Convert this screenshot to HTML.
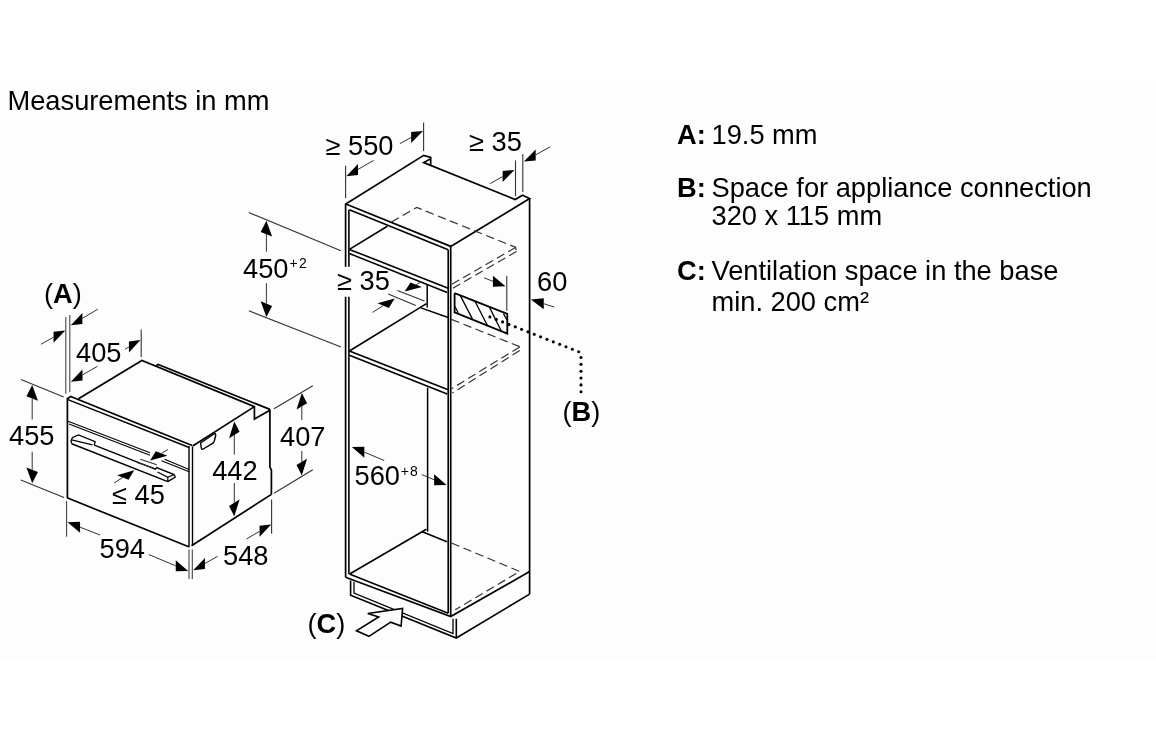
<!DOCTYPE html>
<html><head><meta charset="utf-8"><style>
html,body{margin:0;padding:0;background:#fff;width:1156px;height:742px;overflow:hidden}
svg{display:block;will-change:transform}
text{font-family:"Liberation Sans",sans-serif}
</style></head><body>
<svg width="1156" height="742" viewBox="0 0 1156 742"><rect x="0" y="0" width="1156" height="742" fill="#ffffff"/>
<rect x="0" y="82" width="1156" height="578" fill="#fdfdfd"/>
<path d="M67.30,399.00 L70.60,396.40 L192.20,445.50" fill="none" stroke="#000" stroke-width="1.6" stroke-linecap="butt" stroke-linejoin="miter"/>
<path d="M67.30,399.30 L189.20,447.50" fill="none" stroke="#000" stroke-width="1.4" stroke-linecap="butt" stroke-linejoin="miter"/>
<path d="M67.40,397.80 L67.40,498.00" fill="none" stroke="#000" stroke-width="1.7" stroke-linecap="butt" stroke-linejoin="miter"/>
<path d="M189.00,446.00 L189.00,547.00" fill="none" stroke="#000" stroke-width="1.4" stroke-linecap="butt" stroke-linejoin="miter"/>
<path d="M192.50,446.50 L192.50,545.50" fill="none" stroke="#000" stroke-width="1.4" stroke-linecap="butt" stroke-linejoin="miter"/>
<path d="M67.00,497.80 L189.30,547.00" fill="none" stroke="#000" stroke-width="1.7" stroke-linecap="butt" stroke-linejoin="miter"/>
<path d="M67.40,421.00 L150.00,452.80" fill="none" stroke="#000" stroke-width="1.1" stroke-linecap="butt" stroke-linejoin="miter"/>
<path d="M69.00,423.90 L150.00,455.30" fill="none" stroke="#000" stroke-width="1.1" stroke-linecap="butt" stroke-linejoin="miter"/>
<path d="M164.50,459.30 L189.20,469.60" fill="none" stroke="#000" stroke-width="1.1" stroke-linecap="butt" stroke-linejoin="miter"/>
<path d="M161.50,460.80 L189.20,471.80" fill="none" stroke="#000" stroke-width="1.1" stroke-linecap="butt" stroke-linejoin="miter"/>
<path d="M78.50,398.80 L141.90,360.40 L254.40,406.60 L254.40,419.10 L269.90,410.20" fill="none" stroke="#000" stroke-width="1.7" stroke-linecap="butt" stroke-linejoin="miter"/>
<path d="M155.60,366.20 L158.10,364.40 L269.90,409.40" fill="none" stroke="#000" stroke-width="1.7" stroke-linecap="butt" stroke-linejoin="miter"/>
<path d="M192.70,446.00 L254.40,406.60" fill="none" stroke="#000" stroke-width="1.7" stroke-linecap="butt" stroke-linejoin="miter"/>
<path d="M269.90,409.20 L269.90,467.00 L271.40,470.20 L271.40,494.60" fill="none" stroke="#000" stroke-width="1.7" stroke-linecap="butt" stroke-linejoin="miter"/>
<path d="M191.50,545.80 L271.40,494.40" fill="none" stroke="#000" stroke-width="1.7" stroke-linecap="butt" stroke-linejoin="miter"/>
<path d="M71.70,443.70 L71.00,440.50 L72.50,437.50 L78.50,434.90 L95.10,441.60 L94.30,445.20" fill="none" stroke="#000" stroke-width="1.3" stroke-linecap="butt" stroke-linejoin="miter"/>
<path d="M71.60,439.80 L92.50,444.90" fill="none" stroke="#000" stroke-width="1.2" stroke-linecap="butt" stroke-linejoin="miter"/>
<path d="M71.70,443.70 L167.80,481.60" fill="none" stroke="#000" stroke-width="1.5" stroke-linecap="butt" stroke-linejoin="miter"/>
<path d="M94.30,445.20 L155.30,469.10 L156.60,467.60 L174.00,474.50 L175.20,477.00 L167.80,481.60" fill="none" stroke="#000" stroke-width="1.4" stroke-linecap="butt" stroke-linejoin="miter"/>
<path d="M157.50,472.00 L167.80,477.40 L174.00,474.50" fill="none" stroke="#000" stroke-width="1.2" stroke-linecap="butt" stroke-linejoin="miter"/>
<path d="M167.80,477.40 L167.80,481.60" fill="none" stroke="#000" stroke-width="1.2" stroke-linecap="butt" stroke-linejoin="miter"/>
<path d="M200.6,443 L214.6,433.5 Q215.9,433.7 215.7,435.5 L214.2,441.2 Q213.7,442.8 212.2,443.7 L203.2,449 Q201.6,449.8 201.3,448 Z" fill="none" stroke="#000" stroke-width="1.4"/>
<path d="M65.80,317.00 L65.80,393.50" fill="none" stroke="#444" stroke-width="1.1" stroke-linecap="butt" stroke-linejoin="miter"/>
<path d="M69.80,315.00 L69.80,392.00" fill="none" stroke="#444" stroke-width="1.1" stroke-linecap="butt" stroke-linejoin="miter"/>
<path d="M141.20,329.50 L141.20,357.00" fill="none" stroke="#333" stroke-width="1.1" stroke-linecap="butt" stroke-linejoin="miter"/>
<path d="M21.00,379.60 L63.70,397.10" fill="none" stroke="#333" stroke-width="1.1" stroke-linecap="butt" stroke-linejoin="miter"/>
<path d="M20.80,479.90 L64.00,497.60" fill="none" stroke="#333" stroke-width="1.1" stroke-linecap="butt" stroke-linejoin="miter"/>
<path d="M66.60,501.00 L66.60,536.70" fill="none" stroke="#333" stroke-width="1.0" stroke-linecap="butt" stroke-linejoin="miter"/>
<path d="M189.00,549.60 L189.00,579.00" fill="none" stroke="#444" stroke-width="1.1" stroke-linecap="butt" stroke-linejoin="miter"/>
<path d="M192.30,549.60 L192.30,579.00" fill="none" stroke="#444" stroke-width="1.1" stroke-linecap="butt" stroke-linejoin="miter"/>
<path d="M271.60,499.50 L271.60,533.80" fill="none" stroke="#333" stroke-width="1.1" stroke-linecap="butt" stroke-linejoin="miter"/>
<path d="M274.00,408.80 L312.80,385.70" fill="none" stroke="#333" stroke-width="1.1" stroke-linecap="butt" stroke-linejoin="miter"/>
<path d="M274.00,493.20 L312.80,469.70" fill="none" stroke="#333" stroke-width="1.1" stroke-linecap="butt" stroke-linejoin="miter"/>
<path d="M140.30,459.30 L156.80,464.80" fill="none" stroke="#333" stroke-width="1.1" stroke-linecap="butt" stroke-linejoin="miter"/>
<path d="M137.00,462.50 L153.50,468.00" fill="none" stroke="#333" stroke-width="1.1" stroke-linecap="butt" stroke-linejoin="miter"/>
<path d="M65.30,330.50 L53.56,342.67 L53.56,331.67 Z" fill="#000"/>
<path d="M53.56,337.17 L41.00,344.30" fill="none" stroke="#333" stroke-width="1.0" stroke-linecap="butt" stroke-linejoin="miter"/>
<path d="M70.80,325.30 L82.40,323.89 L82.40,312.89 Z" fill="#000"/>
<path d="M82.40,318.39 L97.80,309.20" fill="none" stroke="#333" stroke-width="1.0" stroke-linecap="butt" stroke-linejoin="miter"/>
<path d="M70.80,381.70 L82.48,380.44 L82.48,369.44 Z" fill="#000"/>
<path d="M82.48,374.94 L97.40,366.30" fill="none" stroke="#333" stroke-width="1.0" stroke-linecap="butt" stroke-linejoin="miter"/>
<path d="M140.50,340.00 L128.91,352.42 L128.91,341.42 Z" fill="#000"/>
<path d="M128.91,346.92 L125.10,349.20" fill="none" stroke="#333" stroke-width="1.0" stroke-linecap="butt" stroke-linejoin="miter"/>
<path d="M32.20,385.00 L37.94,400.73 L26.46,396.27 Z" fill="#000"/>
<path d="M32.20,398.50 L32.20,419.50" fill="none" stroke="#333" stroke-width="1.0" stroke-linecap="butt" stroke-linejoin="miter"/>
<path d="M32.20,483.20 L37.94,471.93 L26.46,467.47 Z" fill="#000"/>
<path d="M32.20,469.70 L32.20,451.80" fill="none" stroke="#333" stroke-width="1.0" stroke-linecap="butt" stroke-linejoin="miter"/>
<path d="M67.50,522.30 L80.08,532.70 L80.08,521.70 Z" fill="#000"/>
<path d="M80.08,527.20 L100.10,535.00" fill="none" stroke="#333" stroke-width="1.0" stroke-linecap="butt" stroke-linejoin="miter"/>
<path d="M188.20,571.00 L175.74,571.30 L175.74,560.30 Z" fill="#000"/>
<path d="M175.74,565.80 L148.90,554.60" fill="none" stroke="#333" stroke-width="1.0" stroke-linecap="butt" stroke-linejoin="miter"/>
<path d="M193.20,570.20 L204.93,569.02 L204.93,558.02 Z" fill="#000"/>
<path d="M204.93,563.52 L217.60,556.30" fill="none" stroke="#333" stroke-width="1.0" stroke-linecap="butt" stroke-linejoin="miter"/>
<path d="M271.20,524.40 L259.58,536.77 L259.58,525.77 Z" fill="#000"/>
<path d="M259.58,531.27 L246.50,539.00" fill="none" stroke="#333" stroke-width="1.0" stroke-linecap="butt" stroke-linejoin="miter"/>
<path d="M301.80,392.90 L307.07,403.20 L296.53,409.60 Z" fill="#000"/>
<path d="M301.80,406.40 L301.80,420.00" fill="none" stroke="#333" stroke-width="1.0" stroke-linecap="butt" stroke-linejoin="miter"/>
<path d="M301.80,475.40 L307.07,458.70 L296.53,465.10 Z" fill="#000"/>
<path d="M301.80,461.90 L301.80,451.00" fill="none" stroke="#333" stroke-width="1.0" stroke-linecap="butt" stroke-linejoin="miter"/>
<path d="M234.30,421.50 L239.57,431.80 L229.03,438.20 Z" fill="#000"/>
<path d="M234.30,435.00 L234.30,454.60" fill="none" stroke="#333" stroke-width="1.0" stroke-linecap="butt" stroke-linejoin="miter"/>
<path d="M234.30,516.30 L239.57,499.60 L229.03,506.00 Z" fill="#000"/>
<path d="M234.30,502.80 L234.30,483.00" fill="none" stroke="#333" stroke-width="1.0" stroke-linecap="butt" stroke-linejoin="miter"/>
<path d="M150.10,460.50 L167.33,455.63 L155.84,451.17 Z" fill="#000"/>
<path d="M161.58,453.40 L167.90,449.50" fill="none" stroke="#333" stroke-width="1.0" stroke-linecap="butt" stroke-linejoin="miter"/>
<path d="M134.20,470.20 L128.55,479.68 L117.07,475.22 Z" fill="#000"/>
<path d="M122.81,477.45 L114.10,483.00" fill="none" stroke="#333" stroke-width="1.0" stroke-linecap="butt" stroke-linejoin="miter"/>
<path d="M345.80,204.00 L450.70,246.40" fill="none" stroke="#000" stroke-width="1.7" stroke-linecap="butt" stroke-linejoin="miter"/>
<path d="M345.80,204.00 L423.70,155.40 L430.70,157.50 L430.70,164.80" fill="none" stroke="#000" stroke-width="1.7" stroke-linecap="butt" stroke-linejoin="miter"/>
<path d="M430.70,158.70 L423.70,162.60 L515.20,199.50 L522.50,195.20 L529.60,198.60 L450.70,246.40" fill="none" stroke="#000" stroke-width="1.7" stroke-linecap="butt" stroke-linejoin="miter"/>
<path d="M345.60,203.50 L345.60,266.80" fill="none" stroke="#000" stroke-width="1.7" stroke-linecap="butt" stroke-linejoin="miter"/>
<path d="M345.60,296.80 L345.60,577.20" fill="none" stroke="#000" stroke-width="1.7" stroke-linecap="butt" stroke-linejoin="miter"/>
<path d="M349.40,209.80 L448.20,249.80" fill="none" stroke="#000" stroke-width="1.6" stroke-linecap="butt" stroke-linejoin="miter"/>
<path d="M348.90,209.80 L348.90,266.80" fill="none" stroke="#000" stroke-width="1.6" stroke-linecap="butt" stroke-linejoin="miter"/>
<path d="M348.90,296.80 L348.90,573.90" fill="none" stroke="#000" stroke-width="1.6" stroke-linecap="butt" stroke-linejoin="miter"/>
<path d="M448.20,249.80 L448.20,613.20" fill="none" stroke="#000" stroke-width="1.6" stroke-linecap="butt" stroke-linejoin="miter"/>
<path d="M450.70,245.60 L450.70,616.60" fill="none" stroke="#000" stroke-width="1.7" stroke-linecap="butt" stroke-linejoin="miter"/>
<path d="M529.60,198.30 L529.60,594.10" fill="none" stroke="#000" stroke-width="1.7" stroke-linecap="butt" stroke-linejoin="miter"/>
<path d="M349.40,249.40 L448.20,288.30" fill="none" stroke="#000" stroke-width="1.6" stroke-linecap="butt" stroke-linejoin="miter"/>
<path d="M349.40,253.60 L447.20,292.50" fill="none" stroke="#000" stroke-width="1.6" stroke-linecap="butt" stroke-linejoin="miter"/>
<path d="M349.40,249.40 L387.30,226.30" fill="none" stroke="#000" stroke-width="1.6" stroke-linecap="butt" stroke-linejoin="miter"/>
<path d="M391.50,222.00 L416.70,207.40 L515.50,247.30 L516.50,251.50" fill="none" stroke="#333" stroke-width="1.2" stroke-linecap="butt" stroke-linejoin="miter" stroke-dasharray="8.5,4.5"/>
<path d="M515.50,247.50 L451.40,284.40" fill="none" stroke="#333" stroke-width="1.2" stroke-linecap="butt" stroke-linejoin="miter" stroke-dasharray="8.5,4.5"/>
<path d="M516.50,251.50 L452.40,288.40" fill="none" stroke="#333" stroke-width="1.2" stroke-linecap="butt" stroke-linejoin="miter" stroke-dasharray="8.5,4.5"/>
<path d="M427.20,284.10 L427.20,307.50" fill="none" stroke="#000" stroke-width="1.5" stroke-linecap="butt" stroke-linejoin="miter"/>
<path d="M420.90,307.90 L448.20,317.50" fill="none" stroke="#000" stroke-width="1.5" stroke-linecap="butt" stroke-linejoin="miter"/>
<path d="M349.40,351.00 L448.20,389.80" fill="none" stroke="#000" stroke-width="1.6" stroke-linecap="butt" stroke-linejoin="miter"/>
<path d="M349.40,355.20 L447.20,394.00" fill="none" stroke="#000" stroke-width="1.6" stroke-linecap="butt" stroke-linejoin="miter"/>
<path d="M349.40,351.00 L426.50,303.60" fill="none" stroke="#000" stroke-width="1.6" stroke-linecap="butt" stroke-linejoin="miter"/>
<path d="M451.40,319.40 L519.70,346.70 L519.70,350.50" fill="none" stroke="#333" stroke-width="1.2" stroke-linecap="butt" stroke-linejoin="miter" stroke-dasharray="8.5,4.5"/>
<path d="M519.70,347.00 L451.40,388.80" fill="none" stroke="#333" stroke-width="1.2" stroke-linecap="butt" stroke-linejoin="miter" stroke-dasharray="8.5,4.5"/>
<path d="M519.70,350.50 L452.40,393.00" fill="none" stroke="#333" stroke-width="1.2" stroke-linecap="butt" stroke-linejoin="miter" stroke-dasharray="8.5,4.5"/>
<path d="M427.60,387.70 L427.60,531.60" fill="none" stroke="#000" stroke-width="1.5" stroke-linecap="butt" stroke-linejoin="miter"/>
<path d="M350.10,573.70 L426.40,529.30" fill="none" stroke="#000" stroke-width="1.6" stroke-linecap="butt" stroke-linejoin="miter"/>
<path d="M421.80,531.60 L446.90,541.80" fill="none" stroke="#000" stroke-width="1.6" stroke-linecap="butt" stroke-linejoin="miter"/>
<path d="M451.40,543.00 L519.70,571.40 L455.20,609.80" fill="none" stroke="#333" stroke-width="1.2" stroke-linecap="butt" stroke-linejoin="miter" stroke-dasharray="8.5,4.5"/>
<path d="M345.60,577.20 L450.70,616.60 L529.60,571.60" fill="none" stroke="#000" stroke-width="1.7" stroke-linecap="butt" stroke-linejoin="miter"/>
<path d="M349.40,573.90 L448.20,613.20" fill="none" stroke="#000" stroke-width="1.6" stroke-linecap="butt" stroke-linejoin="miter"/>
<path d="M350.60,580.60 L350.60,595.20 L456.30,638.00 L529.60,594.10" fill="none" stroke="#000" stroke-width="1.6" stroke-linecap="butt" stroke-linejoin="miter"/>
<path d="M354.00,581.70 L354.00,593.00 L453.00,633.50 L453.00,618.80" fill="none" stroke="#000" stroke-width="1.3" stroke-linecap="butt" stroke-linejoin="miter"/>
<path d="M456.30,618.80 L456.30,638.00" fill="none" stroke="#000" stroke-width="1.6" stroke-linecap="butt" stroke-linejoin="miter"/>
<path d="M454.90,306.50 L458.20,312.80" fill="none" stroke="#000" stroke-width="1.3" stroke-linecap="butt" stroke-linejoin="miter"/>
<path d="M460.20,295.40 L472.50,319.10" fill="none" stroke="#000" stroke-width="1.3" stroke-linecap="butt" stroke-linejoin="miter"/>
<path d="M475.10,301.50 L487.30,325.20" fill="none" stroke="#000" stroke-width="1.3" stroke-linecap="butt" stroke-linejoin="miter"/>
<path d="M489.50,307.40 L501.40,331.20" fill="none" stroke="#000" stroke-width="1.3" stroke-linecap="butt" stroke-linejoin="miter"/>
<path d="M503.40,313.60 L507.00,320.00" fill="none" stroke="#000" stroke-width="1.3" stroke-linecap="butt" stroke-linejoin="miter"/>
<path d="M454.60,293.20 L507.30,313.90 L507.30,333.60 L454.60,312.40 L454.60,293.20" fill="none" stroke="#000" stroke-width="1.8" stroke-linecap="butt" stroke-linejoin="miter"/>
<circle cx="489.90" cy="316.90" r="1.55" fill="#000"/>
<circle cx="496.24" cy="319.39" r="1.55" fill="#000"/>
<circle cx="502.58" cy="321.89" r="1.55" fill="#000"/>
<circle cx="508.92" cy="324.38" r="1.55" fill="#000"/>
<circle cx="515.26" cy="326.87" r="1.55" fill="#000"/>
<circle cx="521.60" cy="329.37" r="1.55" fill="#000"/>
<circle cx="527.94" cy="331.86" r="1.55" fill="#000"/>
<circle cx="534.28" cy="334.35" r="1.55" fill="#000"/>
<circle cx="540.62" cy="336.85" r="1.55" fill="#000"/>
<circle cx="546.96" cy="339.34" r="1.55" fill="#000"/>
<circle cx="553.30" cy="341.83" r="1.55" fill="#000"/>
<circle cx="559.64" cy="344.33" r="1.55" fill="#000"/>
<circle cx="565.98" cy="346.82" r="1.55" fill="#000"/>
<circle cx="572.32" cy="349.31" r="1.55" fill="#000"/>
<circle cx="578.66" cy="351.81" r="1.55" fill="#000"/>
<circle cx="581.00" cy="357.50" r="1.55" fill="#000"/>
<circle cx="581.00" cy="364.35" r="1.55" fill="#000"/>
<circle cx="581.00" cy="371.20" r="1.55" fill="#000"/>
<circle cx="581.00" cy="378.05" r="1.55" fill="#000"/>
<circle cx="581.00" cy="384.90" r="1.55" fill="#000"/>
<circle cx="581.00" cy="391.75" r="1.55" fill="#000"/>
<path d="M356.4,630.8 L368.9,636.3 L390.7,622.2 L401.1,626.1 L402.6,608.5 L367.8,613.5 L378.7,617 Z" fill="#fdfdfd" stroke="#000" stroke-width="1.6" stroke-linejoin="miter"/>
<path d="M345.60,165.70 L345.60,198.30" fill="none" stroke="#333" stroke-width="1.1" stroke-linecap="butt" stroke-linejoin="miter"/>
<path d="M423.60,122.60 L423.60,151.00" fill="none" stroke="#333" stroke-width="1.1" stroke-linecap="butt" stroke-linejoin="miter"/>
<path d="M515.50,160.40 L515.50,196.20" fill="none" stroke="#333" stroke-width="1.1" stroke-linecap="butt" stroke-linejoin="miter"/>
<path d="M522.80,154.10 L522.80,192.00" fill="none" stroke="#333" stroke-width="1.1" stroke-linecap="butt" stroke-linejoin="miter"/>
<path d="M248.90,212.60 L340.90,250.80" fill="none" stroke="#333" stroke-width="1.1" stroke-linecap="butt" stroke-linejoin="miter"/>
<path d="M248.90,310.80 L341.00,347.00" fill="none" stroke="#333" stroke-width="1.1" stroke-linecap="butt" stroke-linejoin="miter"/>
<path d="M397.40,290.60 L424.50,301.10" fill="none" stroke="#333" stroke-width="1.1" stroke-linecap="butt" stroke-linejoin="miter"/>
<path d="M388.20,294.10 L415.80,305.50" fill="none" stroke="#333" stroke-width="1.1" stroke-linecap="butt" stroke-linejoin="miter"/>
<path d="M506.80,276.00 L506.80,310.80" fill="none" stroke="#333" stroke-width="1.1" stroke-linecap="butt" stroke-linejoin="miter"/>
<path d="M346.30,176.20 L357.98,174.94 L357.98,163.94 Z" fill="#000"/>
<path d="M357.98,169.44 L373.60,160.40" fill="none" stroke="#333" stroke-width="1.0" stroke-linecap="butt" stroke-linejoin="miter"/>
<path d="M423.00,131.00 L411.15,142.96 L411.15,131.96 Z" fill="#000"/>
<path d="M411.15,137.46 L399.90,143.60" fill="none" stroke="#333" stroke-width="1.0" stroke-linecap="butt" stroke-linejoin="miter"/>
<path d="M514.40,169.90 L502.65,182.05 L502.65,171.05 Z" fill="#000"/>
<path d="M502.65,176.55 L490.20,183.60" fill="none" stroke="#333" stroke-width="1.0" stroke-linecap="butt" stroke-linejoin="miter"/>
<path d="M523.90,161.50 L535.67,160.39 L535.67,149.39 Z" fill="#000"/>
<path d="M535.67,154.89 L550.10,146.80" fill="none" stroke="#333" stroke-width="1.0" stroke-linecap="butt" stroke-linejoin="miter"/>
<path d="M266.40,220.70 L272.11,236.52 L260.69,231.88 Z" fill="#000"/>
<path d="M266.40,234.20 L266.40,251.70" fill="none" stroke="#333" stroke-width="1.0" stroke-linecap="butt" stroke-linejoin="miter"/>
<path d="M266.40,317.10 L272.11,305.92 L260.69,301.28 Z" fill="#000"/>
<path d="M266.40,303.60 L266.40,283.20" fill="none" stroke="#333" stroke-width="1.0" stroke-linecap="butt" stroke-linejoin="miter"/>
<path d="M404.60,291.60 L421.93,287.05 L410.51,282.42 Z" fill="#000"/>
<path d="M416.22,284.73 L420.00,282.50" fill="none" stroke="#333" stroke-width="1.0" stroke-linecap="butt" stroke-linejoin="miter"/>
<path d="M394.60,298.40 L388.90,307.94 L377.49,303.31 Z" fill="#000"/>
<path d="M383.20,305.62 L372.50,312.40" fill="none" stroke="#333" stroke-width="1.0" stroke-linecap="butt" stroke-linejoin="miter"/>
<path d="M505.50,286.20 L492.93,286.79 L492.93,275.79 Z" fill="#000"/>
<path d="M492.93,281.29 L484.00,277.80" fill="none" stroke="#333" stroke-width="1.0" stroke-linecap="butt" stroke-linejoin="miter"/>
<path d="M530.90,299.60 L543.76,309.20 L543.76,298.20 Z" fill="#000"/>
<path d="M543.76,303.70 L554.40,307.10" fill="none" stroke="#333" stroke-width="1.0" stroke-linecap="butt" stroke-linejoin="miter"/>
<path d="M351.90,446.90 L364.34,457.64 L364.34,446.64 Z" fill="#000"/>
<path d="M364.34,452.14 L384.20,460.50" fill="none" stroke="#333" stroke-width="1.0" stroke-linecap="butt" stroke-linejoin="miter"/>
<path d="M446.60,484.90 L434.13,485.22 L434.13,474.22 Z" fill="#000"/>
<path d="M434.13,479.72 L421.80,474.60" fill="none" stroke="#333" stroke-width="1.0" stroke-linecap="butt" stroke-linejoin="miter"/>
<g font-family="Liberation Sans, sans-serif" fill="#000">
<text x="7.5" y="110.4" font-size="27.25" text-anchor="start">Measurements in mm</text>
<text x="44" y="303" font-size="27.25">(<tspan font-weight="bold">A</tspan>)</text>
<text x="76" y="361.8" font-size="27.25" text-anchor="start">405</text>
<text x="9" y="444.8" font-size="27.25" text-anchor="start">455</text>
<text x="99.5" y="557.6" font-size="27.25" text-anchor="start">594</text>
<text x="223" y="565.3" font-size="27.25" text-anchor="start">548</text>
<text x="212.2" y="480.2" font-size="27.25" text-anchor="start">442</text>
<text x="280" y="445.5" font-size="27.25" text-anchor="start">407</text>
<text x="112" y="504" font-size="27.25" text-anchor="start">≤ 45</text>
<text x="325.5" y="155.2" font-size="27.25" text-anchor="start">≥ 550</text>
<text x="469" y="151" font-size="27.25" text-anchor="start">≥ 35</text>
<text x="243" y="278" font-size="27.25" text-anchor="start">450</text>
<text x="289.6" y="268.2" font-size="14" letter-spacing="1.2">+2</text>
<text x="337" y="290.1" font-size="27.25" text-anchor="start">≥ 35</text>
<text x="537" y="290.9" font-size="27.25" text-anchor="start">60</text>
<text x="354.5" y="484.9" font-size="27.25" text-anchor="start">560</text>
<text x="400.7" y="475.8" font-size="14" letter-spacing="1.2">+8</text>
<text x="562.5" y="420.5" font-size="27.25">(<tspan font-weight="bold">B</tspan>)</text>
<text x="307.5" y="633" font-size="27.25">(<tspan font-weight="bold">C</tspan>)</text>
<text x="677" y="143.6" font-size="27.25" font-weight="bold" text-anchor="start">A:</text>
<text x="711.5" y="143.6" font-size="27.25" text-anchor="start">19.5 mm</text>
<text x="677" y="197" font-size="27.25" font-weight="bold" text-anchor="start">B:</text>
<text x="711.5" y="197" font-size="27.25" text-anchor="start">Space for appliance connection</text>
<text x="711.5" y="224.5" font-size="27.25" text-anchor="start">320 x 115 mm</text>
<text x="677" y="280.4" font-size="27.25" font-weight="bold" text-anchor="start">C:</text>
<text x="711.5" y="280.4" font-size="27.25" text-anchor="start">Ventilation space in the base</text>
<text x="711.5" y="310.9" font-size="27.25" text-anchor="start">min. 200 cm²</text>
</g></svg>
</body></html>
